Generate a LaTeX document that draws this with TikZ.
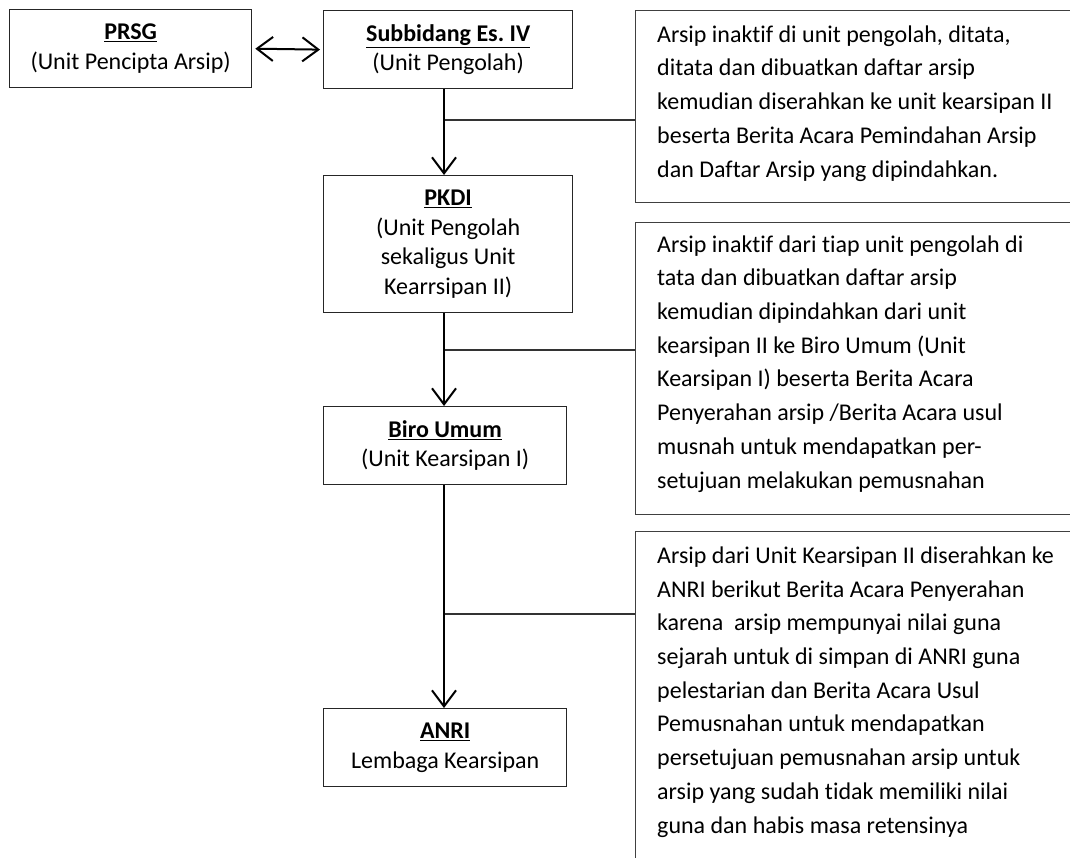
\documentclass[tikz,border=0pt]{standalone}
\usepackage{fontspec}
\setmainfont[Ligatures=NoCommon]{Carlito}
\usetikzlibrary{arrows.meta,calc}
\tikzset{
  lbox/.style={draw=black!85, line width=1.3pt, fill=white, inner sep=0pt, align=center,
    anchor=north west, font=\fontsize{24}{29.5}\selectfont},
  frame/.style={draw=black!75, line width=1.3pt, inner sep=0pt, anchor=north west},
  desc/.style={inner sep=0pt, align=left, anchor=base west, font=\fontsize{24}{33.7}\selectfont},
  arr/.style={line width=2pt, -{Straight Barb[length=16pt,width=24pt,line width=2pt]}},
  darr/.style={line width=2pt, {Straight Barb[length=16pt,width=24pt,line width=2pt]}-{Straight Barb[length=16pt,width=24pt,line width=2pt]}, shorten <=3pt, shorten >=3pt},
  branch/.style={line width=1.4pt, draw=black!80}
}
\newcommand{\ttl}[1]{\underline{\textbf{#1}}}
\begin{document}
\begin{tikzpicture}[x=1pt,y=-1pt]
\clip (0,0) rectangle (1070,857);
\fill[white] (0,0) rectangle (1070,857);
% left column boxes
\node[lbox, minimum width=242pt, minimum height=78pt] (prsg) at (9,9) {\ttl{PRSG}\\(Unit Pencipta Arsip)};
\node[lbox, minimum width=249pt, minimum height=78pt] (sub) at (323,10) {\ttl{Subbidang Es.~IV}\\(Unit Pengolah)};
\node[lbox, minimum width=249pt, minimum height=137pt] (pkdi) at (323,175) {\ttl{PKDI}\\(Unit Pengolah\\sekaligus Unit\\Kearrsipan II)};
\node[lbox, minimum width=243pt, minimum height=78pt] (biro) at (323,406) {\ttl{Biro Umum}\\(Unit Kearsipan I)};
\node[lbox, minimum width=243pt, minimum height=78pt] (anri) at (323,708) {\ttl{ANRI}\\Lembaga Kearsipan};
% right description frames
\node[frame, minimum width=460pt, minimum height=192pt] (f1) at (635,10) {};
\node[frame, minimum width=460pt, minimum height=292pt] (f2) at (635,222) {};
\node[frame, minimum width=460pt, minimum height=360pt] (f3) at (635,531) {};
\node[desc] (t1) at (657,177) {Arsip inaktif di unit pengolah, ditata,\\ditata dan dibuatkan daftar arsip\\kemudian diserahkan ke unit kearsipan II\\beserta Berita Acara Pemindahan Arsip\\dan Daftar Arsip yang dipindahkan.};
\node[desc] (t2) at (657,488) {Arsip inaktif dari tiap unit pengolah di\\tata dan dibuatkan daftar arsip\\kemudian dipindahkan dari unit\\kearsipan II ke Biro Umum (Unit\\Kearsipan I) beserta Berita Acara\\Penyerahan arsip /Berita Acara usul\\musnah untuk mendapatkan per-\\setujuan melakukan pemusnahan};
\node[desc] (t3) at (657,833) {Arsip dari Unit Kearsipan II diserahkan ke\\ANRI berikut Berita Acara Penyerahan\\karena \ arsip mempunyai nilai guna\\sejarah untuk di simpan di ANRI guna\\pelestarian dan Berita Acara Usul\\Pemusnahan untuk mendapatkan\\persetujuan pemusnahan arsip untuk\\arsip yang sudah tidak memiliki nilai\\guna dan habis masa retensinya};
% spine
\coordinate (spine) at (444,0);
\coordinate (b1) at (0,120);
\coordinate (b2) at (0,350);
\coordinate (b3) at (0,614);
% connectors
\draw[darr] (prsg.east) -- (sub.west);
\draw[branch] (spine |- b1) -- (f1.west |- b1);
\draw[branch] (spine |- b2) -- (f2.west |- b2);
\draw[branch] (spine |- b3) -- (f3.west |- b3);
\draw[arr] (sub.south -| spine) -- (pkdi.north -| spine);
\draw[arr] (pkdi.south -| spine) -- (biro.north -| spine);
\draw[arr] (biro.south -| spine) -- (anri.north -| spine);
\end{tikzpicture}
\end{document}
